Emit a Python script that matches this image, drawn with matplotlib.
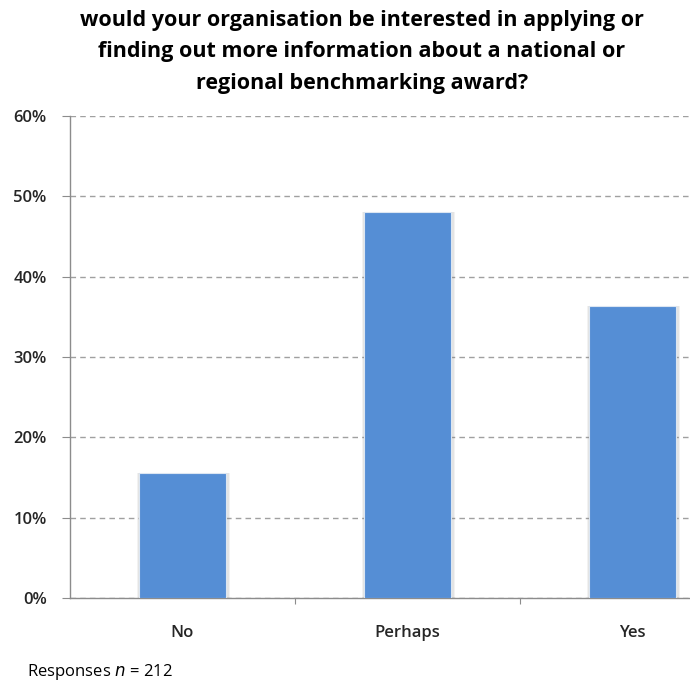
import matplotlib
matplotlib.use("Agg")
import matplotlib.pyplot as plt
from matplotlib.ticker import FixedLocator, PercentFormatter

categories = ["No", "Perhaps", "Yes"]
values = [15.6, 48.1, 36.3]
y_ticks = [0, 10, 20, 30, 40, 50, 60]
title = ("would your organisation be interested in applying or\n"
         "finding out more information about a national or\n"
         "regional benchmarking award?")

W, H = 690, 683
fig = plt.figure(figsize=(W / 100, H / 100), dpi=100)
fig.patch.set_facecolor("white")

# plot area runs past the right edge, so the last category is cut off
left, right, top, bottom = 70, 745, 116, 598
ax = fig.add_axes([left / W, 1 - bottom / H, (right - left) / W, (bottom - top) / H])

x = list(range(len(categories)))
bar_w = 0.39
# soft shadow behind each bar
for off, a in [(0.012, 0.10), (0.006, 0.12)]:
    ax.bar([i + 0.004 for i in x], values, width=bar_w + 2 * off, color="#808080",
           alpha=a, zorder=2, linewidth=0)
ax.bar(x, values, width=bar_w, color="#558ED5", edgecolor="#DCE6F2",
       linewidth=0.8, zorder=3)

ax.set_xlim(-0.5, 2.5)
ax.set_ylim(0, 60)
ax.yaxis.set_major_locator(FixedLocator(y_ticks))
ax.yaxis.set_major_formatter(PercentFormatter(decimals=0))
ax.grid(axis="y", color="#A0A0A0", linestyle=(0, (4, 3)), linewidth=1, zorder=1)

for s in ["top", "right"]:
    ax.spines[s].set_visible(False)
for s in ["left", "bottom"]:
    ax.spines[s].set_color("#8C8C8C")
    ax.spines[s].set_linewidth(1)

ax.set_xticks([0.5, 1.5])
ax.set_xticklabels([])
ax.tick_params(axis="x", length=4.5, color="#8C8C8C", direction="out")
ax.tick_params(axis="y", length=5.8, color="#8C8C8C", direction="out", pad=11,
               labelsize=12, labelcolor="#262626")
for lab in ax.get_yticklabels():
    lab.set_fontfamily("Open Sans")
    lab.set_fontweight("semibold")

for i, c in enumerate(categories):
    ax.text(i, -4.4, c, ha="center", va="center", fontsize=12, fontfamily="Open Sans",
            fontweight="semibold", color="#262626")

fig.text(362 / W, 1 - 52 / H, title, ha="center", va="center",
         fontsize=15.5, fontfamily="Open Sans", fontweight="bold", color="black",
         linespacing=1.68)

fig.text(27 / W, 1 - 672 / H, r"Responses $\it{n}$ = 212", ha="left", va="center",
         fontsize=12, fontfamily="Open Sans", color="black")

fig.savefig("out.png", dpi=100, facecolor="white")
